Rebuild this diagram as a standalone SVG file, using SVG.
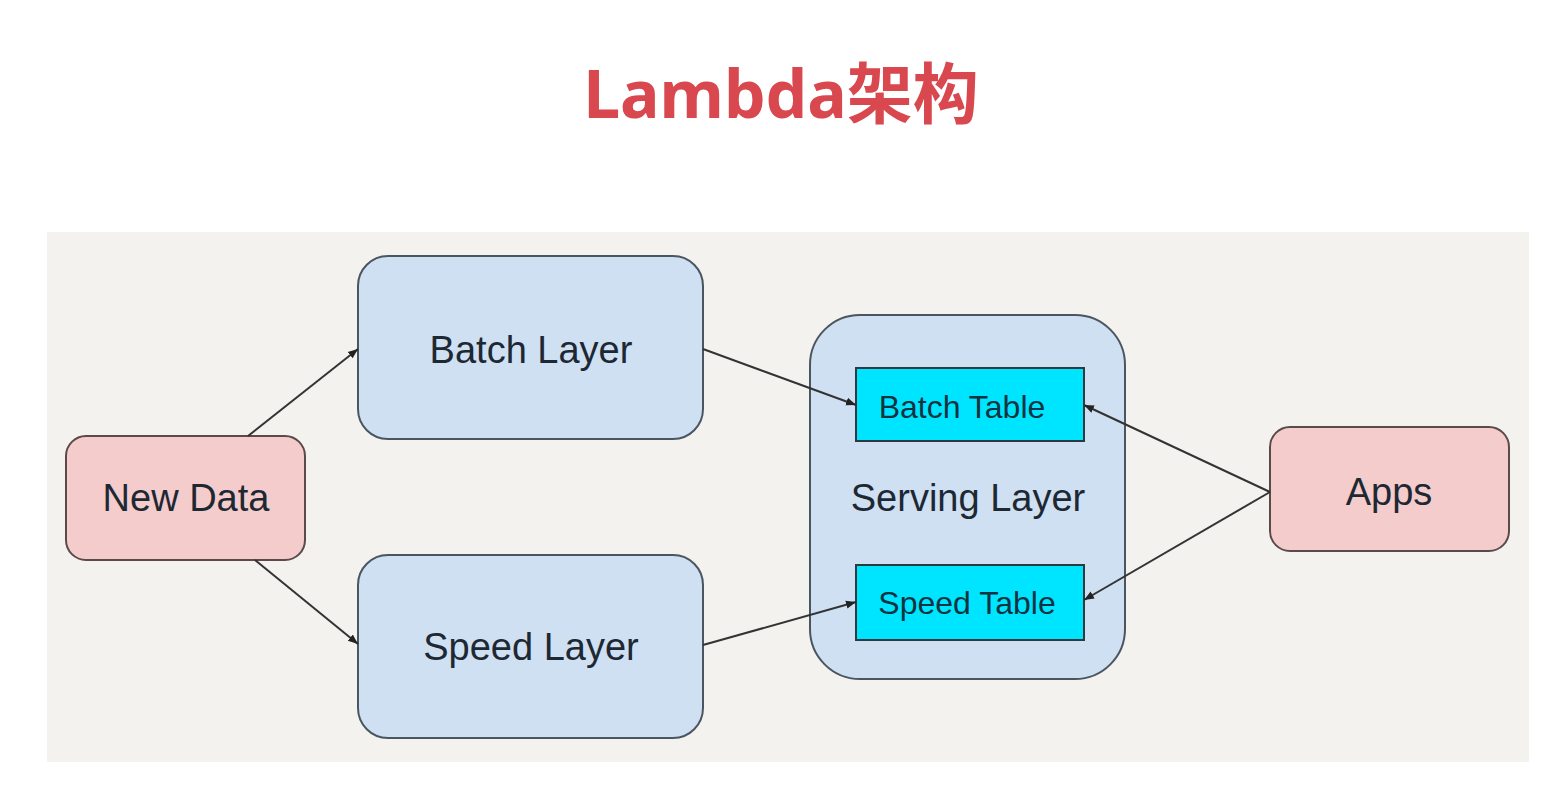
<svg xmlns="http://www.w3.org/2000/svg" width="1549" height="809" viewBox="0 0 1549 809">
<defs>
<style>
.txt{font-family:"Liberation Sans",Arial,sans-serif;font-size:38px;fill:#1e2833;text-anchor:middle}
.tbl{font-size:32px;fill:#0f3340}
.pink{fill:#f4cccc;stroke:#5a4a4a;stroke-width:2}
.blue{fill:#cfe0f3;stroke:#4a5560;stroke-width:2}
.cyan{fill:#00e5ff;stroke:#2a3a40;stroke-width:2}
.conn{stroke:#333;stroke-width:2;fill:none;marker-end:url(#ah)}
</style>
<marker id="ah" viewBox="0 0 10 10" refX="10" refY="5" markerWidth="5" markerHeight="5" orient="auto" markerUnits="strokeWidth">
<path d="M0,1 L10,5 L0,9 z" fill="#222"/>
</marker>
</defs>
<rect x="0" y="0" width="1549" height="809" fill="#ffffff"/>
<text x="781" y="118" font-family="'Noto Sans','Noto Sans CJK SC',sans-serif" font-weight="bold" font-size="66" fill="#d9484f" text-anchor="middle">Lambda架构</text>
<rect x="47" y="232" width="1482" height="530" fill="#f4f2ef"/>
<g id="new-data">
<rect class="pink" x="66" y="436" width="239" height="124" rx="20"/>
<text class="txt" x="186" y="511">New Data</text>
</g>
<g id="batch-layer">
<rect class="blue" x="358" y="256" width="345" height="183" rx="30"/>
<text class="txt" x="531" y="363">Batch Layer</text>
</g>
<g id="speed-layer">
<rect class="blue" x="358" y="555" width="345" height="183" rx="30"/>
<text class="txt" x="531" y="660">Speed Layer</text>
</g>
<g id="serving-layer">
<rect class="blue" x="810" y="315" width="315" height="364" rx="50"/>
<text class="txt" x="968" y="511">Serving Layer</text>
</g>
<g id="batch-table">
<rect class="cyan" x="856" y="368" width="228" height="73"/>
<text class="txt tbl" x="962" y="418">Batch Table</text>
</g>
<g id="speed-table">
<rect class="cyan" x="856" y="565" width="228" height="75"/>
<text class="txt tbl" x="967" y="614">Speed Table</text>
</g>
<g id="apps">
<rect class="pink" x="1270" y="427" width="239" height="124" rx="20"/>
<text class="txt" x="1389" y="505">Apps</text>
</g>
<g id="connectors">
<line class="conn" x1="248" y1="436" x2="358" y2="349"/>
<line class="conn" x1="255" y1="560" x2="358" y2="644"/>
<line class="conn" x1="703" y1="349" x2="856" y2="405"/>
<line class="conn" x1="703" y1="645" x2="856" y2="602"/>
<line class="conn" x1="1270" y1="492" x2="1084" y2="405"/>
<line class="conn" x1="1270" y1="492" x2="1084" y2="600"/>
</g>
</svg>
